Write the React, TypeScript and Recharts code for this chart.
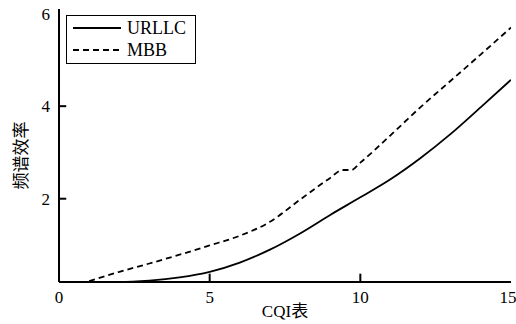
import { LineChart, Line, XAxis, YAxis, Label, ReferenceLine } from 'recharts'

// CQI index values
const urllcCqi = [1, 2, 3, 4, 5, 6, 7, 8, 9, 10, 11, 12, 13, 14, 15]
const urllcEff = [0.2, 0.2, 0.23, 0.3, 0.42, 0.62, 0.9, 1.25, 1.65, 2.03, 2.42, 2.88, 3.4, 3.98, 4.57]

const mbbCqi = [1, 2, 3, 4, 5, 6, 7, 8, 9, 9.4, 9.7, 10, 11, 12, 13, 14, 15]
const mbbEff = [0.22, 0.42, 0.6, 0.79, 0.99, 1.2, 1.5, 1.98, 2.45, 2.62, 2.62, 2.78, 3.37, 3.98, 4.55, 5.12, 5.7]

const xTicks = [0, 5, 10, 15]
const yTicks = [2, 4, 6]
const xDomain = [0, 15]
const yDomain = [0.2, 6.1]
// inner tick marks (the ones on the frame edges are hidden by the frame)
const xMarks = [5, 10]
const yMarks = [2, 4]
const xMarkLen = 0.24 // ~7px in x units
const yMarkLen = 0.18 // ~8px in y units

const urllcData = urllcCqi.map((x, i) => ({ x, y: urllcEff[i] }))
const mbbData = mbbCqi.map((x, i) => ({ x, y: mbbEff[i] }))

const serif = '"Liberation Serif", "Times New Roman", serif'
const cjk = '"Liberation Serif", "Noto Sans CJK SC", serif'
const axisStroke = { stroke: '#000', strokeWidth: 2 }

const XTick = ({ x, y, payload }: any) => (
  <text x={x} y={y} dy={13} textAnchor="middle" fontSize={17} fontFamily={serif} fill="#000">{payload.value}</text>
)

const YTick = ({ x, y, payload }: any) => (
  <text x={x - 1} y={y} dy={6} textAnchor="end" fontSize={17} fontFamily={serif} fill="#000">{payload.value}</text>
)

const LegendBox = () => (
  <div style={{ position: 'absolute', left: 66, top: 15, border: '1.5px solid #000', background: '#fff', width: 130, height: 49, fontFamily: serif, fontSize: 18, color: '#000', boxSizing: 'border-box', lineHeight: '22px' }}>
    <div style={{ display: 'flex', alignItems: 'center', height: 22, marginTop: 1 }}>
      <svg width={60} height={10}><line x1={6} x2={54} y1={5} y2={5} stroke="#000" strokeWidth={1.8} /></svg>
      <span>URLLC</span>
    </div>
    <div style={{ display: 'flex', alignItems: 'center', height: 22 }}>
      <svg width={60} height={10}><line x1={6} x2={54} y1={5} y2={5} stroke="#000" strokeWidth={1.8} strokeDasharray="6 4" /></svg>
      <span>MBB</span>
    </div>
  </div>
)

export default function App() {
  return (
    <div style={{ position: 'absolute', left: 0, top: 0, width: 516, height: 324, background: '#fff', fontFamily: serif }}>
      <LineChart width={516} height={324} margin={{ top: 9, right: 5, left: 10, bottom: 12 }}>
        <XAxis
          dataKey="x" type="number" domain={xDomain} ticks={xTicks} allowDataOverflow
          height={30} tickLine={false} tickSize={6} tickMargin={2}
          axisLine={axisStroke} tick={<XTick />}
        >
          <Label
            content={({ viewBox }: any) => (
              <text x={viewBox.x + viewBox.width / 2} y={viewBox.y + 35} textAnchor="middle" fontSize={17} fontFamily={cjk} fill="#000">CQI表</text>
            )}
          />
        </XAxis>
        <XAxis xAxisId="top" orientation="top" type="number" domain={xDomain} height={0} tick={false} tickLine={false} axisLine={axisStroke} />
        <YAxis
          type="number" domain={yDomain} ticks={yTicks} allowDataOverflow
          width={49} tickLine={false} tickSize={6} tickMargin={2}
          axisLine={axisStroke} tick={<YTick />}
        >
          <Label
            content={({ viewBox }: any) => {
              const cx = viewBox.x + 11
              const cy = viewBox.y + viewBox.height / 2 + 10
              return (
                <text x={cx} y={cy} transform={`rotate(-90 ${cx} ${cy})`} textAnchor="middle" dominantBaseline="central" fontSize={17} fontFamily={cjk} fill="#000">频谱效率</text>
              )
            }}
          />
        </YAxis>
        <YAxis yAxisId="right" orientation="right" type="number" domain={yDomain} width={0} tick={false} tickLine={false} axisLine={axisStroke} />
        {xMarks.map(v => (
          <ReferenceLine key={`xm${v}`} segment={[{ x: v, y: yDomain[0] }, { x: v, y: yDomain[0] + yMarkLen }]} stroke="#000" strokeWidth={2} />
        ))}
        {yMarks.map(v => (
          <ReferenceLine key={`ym${v}`} segment={[{ x: xDomain[0], y: v }, { x: xDomain[0] + xMarkLen, y: v }]} stroke="#000" strokeWidth={2} />
        ))}
        <Line data={urllcData} dataKey="y" name="URLLC" type="monotone" stroke="#000" strokeWidth={1.8} dot={false} isAnimationActive={false} />
        <Line data={mbbData} dataKey="y" name="MBB" type="monotone" stroke="#000" strokeWidth={1.8} strokeDasharray="6 4" dot={false} isAnimationActive={false} />
      </LineChart>
      <LegendBox />
    </div>
  )
}
